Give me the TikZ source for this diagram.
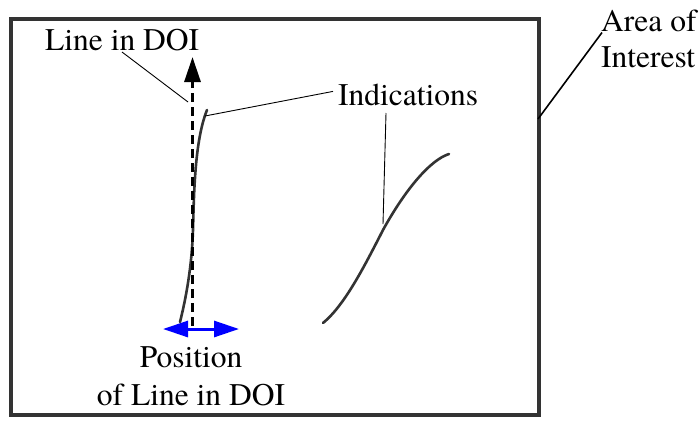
\documentclass[tikz,border=0pt]{standalone}
\usepackage{fontspec}
\setmainfont{texgyretermes-regular.otf}
\usetikzlibrary{arrows.meta}
\definecolor{frame}{HTML}{333333}
\begin{document}
\begin{tikzpicture}[x=1pt,y=-1pt,
  lbl/.style={inner sep=0pt,font=\rmfamily\fontsize{31.5}{36}\selectfont},
  leader/.style={line width=0.9pt,black},
  crack/.style={line width=2.6pt,frame,line cap=round},
  doiline/.style={line width=3pt,dash pattern=on 9pt off 5pt,-{Triangle[length=25pt,width=16pt]}},
  posarrow/.style={line width=3pt,blue,{Triangle[length=25pt,width=16pt]}-{Triangle[length=25pt,width=16pt]}}]
\useasboundingbox (0,0) rectangle (700,420);

% area of interest
\draw[line width=4pt,frame] (11,19) rectangle (539,415);

% labels
\node[lbl,anchor=base west] (doi) at (45,50) {Line in DOI};
\node[lbl,anchor=base west] (ind) at (338,105) {Indications};
\node[lbl,anchor=base west] (area) at (601,31) {Area of};
\node[lbl,anchor=base west] (inter) at (601,67) {Interest};
\node[lbl,anchor=base] (pos) at (191,367) {Position};
\node[lbl,anchor=base] (posb) at (191,405) {of Line in DOI};

% indications
\draw[crack] (180,322) .. controls (188,290) and (192,260) .. (193,230)
  .. controls (194,190) and (195,140) .. (207,110);
\draw[crack] (323,323) .. controls (345,305) and (365,265) .. (383,230)
  .. controls (405,190) and (430,160) .. (449,154);

% line in DOI and its position
\coordinate (dbot) at (192.5,326);
\coordinate (dtop) at (192.5,57);
\draw[doiline] (dbot) -- (dtop);
\coordinate (pl) at (163,329);
\coordinate (pr) at (239,329);
\draw[posarrow] (pl) -- (pr);

% leaders
\coordinate (c1) at (205,116);
\coordinate (c2) at (383,224);
\coordinate (dl) at (188,102);
\coordinate (ae) at (538,119);
\draw[leader] (doi.base west) ++(77,2) -- (dl);
\draw[leader] (ind.west) ++(-5,-3) coordinate (i1) -- (c1);
\draw[leader] (386,113) -- (c2);
\draw[line width=1.6pt] (area.south west) ++(1,1) -- (ae);
\end{tikzpicture}
\end{document}
